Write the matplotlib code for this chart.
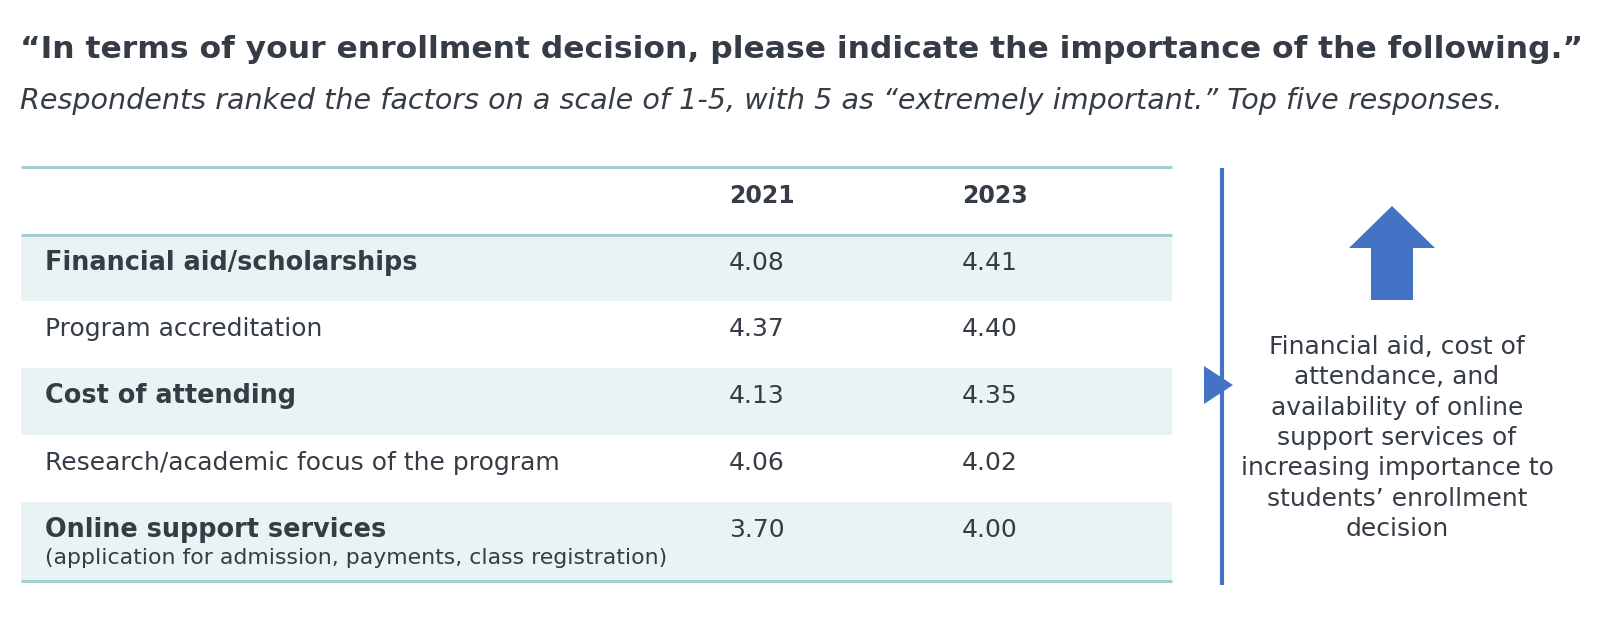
import matplotlib.pyplot as plt
from matplotlib.patches import FancyArrow, Polygon, Rectangle

# table data
factors = [
    "Financial aid/scholarships",
    "Program accreditation",
    "Cost of attending",
    "Research/academic focus of the program",
    "Online support services",
]
factor_notes = ["", "", "", "", "(application for admission, payments, class registration)"]
bold_rows = [True, False, True, False, True]
years = ["2021", "2023"]
scores_2021 = [4.08, 4.37, 4.13, 4.06, 3.70]
scores_2023 = [4.41, 4.40, 4.35, 4.02, 4.00]

title = "\u201cIn terms of your enrollment decision, please indicate the importance of the following.\u201d"
subtitle = ("Respondents ranked the factors on a scale of 1-5, with 5 as \u201cextremely important.\u201d "
            "Top five responses.")
callout_lines = [
    "Financial aid, cost of",
    "attendance, and",
    "availability of online",
    "support services of",
    "increasing importance to",
    "students\u2019 enrollment",
    "decision",
]

TEXT = "#353c45"
LINE = "#a3cfd1"
SHADE = "#eaf3f4"
BLUE = "#4472c4"

plt.rcParams["font.family"] = ["DejaVu Sans"]

fig = plt.figure(figsize=(16.1, 6.32), dpi=100)
ax = fig.add_axes([0, 0, 1, 1])
ax.set_xlim(0, 1610)
ax.set_ylim(632, 0)
ax.axis("off")

ax.text(20, 50, title, fontsize=22.6, fontweight="bold", color=TEXT, va="center", ha="left")
ax.text(20, 101, subtitle, fontsize=20.65, style="italic", color=TEXT, va="center", ha="left")

# table geometry (pixels)
left, right = 21, 1172
top, head_bottom = 167, 235
row_tops = [235, 301, 368, 435, 502]
bottom = 581
col_x = [729, 962]

for i, name in enumerate(factors):
    y0 = row_tops[i]
    y1 = row_tops[i + 1] if i + 1 < len(row_tops) else bottom
    if i % 2 == 0:
        ax.add_patch(Rectangle((left, y0), right - left, y1 - y0, color=SHADE, lw=0, zorder=0))
    ty = y0 + 28
    ax.text(45, ty, name, color=TEXT, va="center",
            fontsize=18.4 if bold_rows[i] else 18,
            fontweight="bold" if bold_rows[i] else "normal")
    if factor_notes[i]:
        ax.text(45, ty + 28, factor_notes[i], fontsize=15.8, color=TEXT, va="center")
    ax.text(col_x[0], ty, f"{scores_2021[i]:.2f}", fontsize=18, color=TEXT, va="center")
    ax.text(col_x[1], ty, f"{scores_2023[i]:.2f}", fontsize=18, color=TEXT, va="center")

for x, yr in zip(col_x, years):
    ax.text(x, 196, yr, fontsize=17, fontweight="bold", color=TEXT, va="center")

for y in (top, head_bottom, bottom):
    ax.plot([left, right], [y, y], color=LINE, lw=2.2, solid_capstyle="butt", zorder=2)

# callout on the right
ax.plot([1222, 1222], [168, 585], color=BLUE, lw=3, solid_capstyle="butt")
ax.add_patch(Polygon([[1204, 366], [1233, 385], [1204, 404]], closed=True, color=BLUE, lw=0))
ax.add_patch(FancyArrow(1392, 300, 0, -94, width=42, head_width=86, head_length=42,
                        length_includes_head=True, color=BLUE, lw=0))
for k, line in enumerate(callout_lines):
    ax.text(1397, 347 + 30.3 * k, line, fontsize=18, color=TEXT, ha="center", va="center")

fig.savefig("out.png", dpi=100)
